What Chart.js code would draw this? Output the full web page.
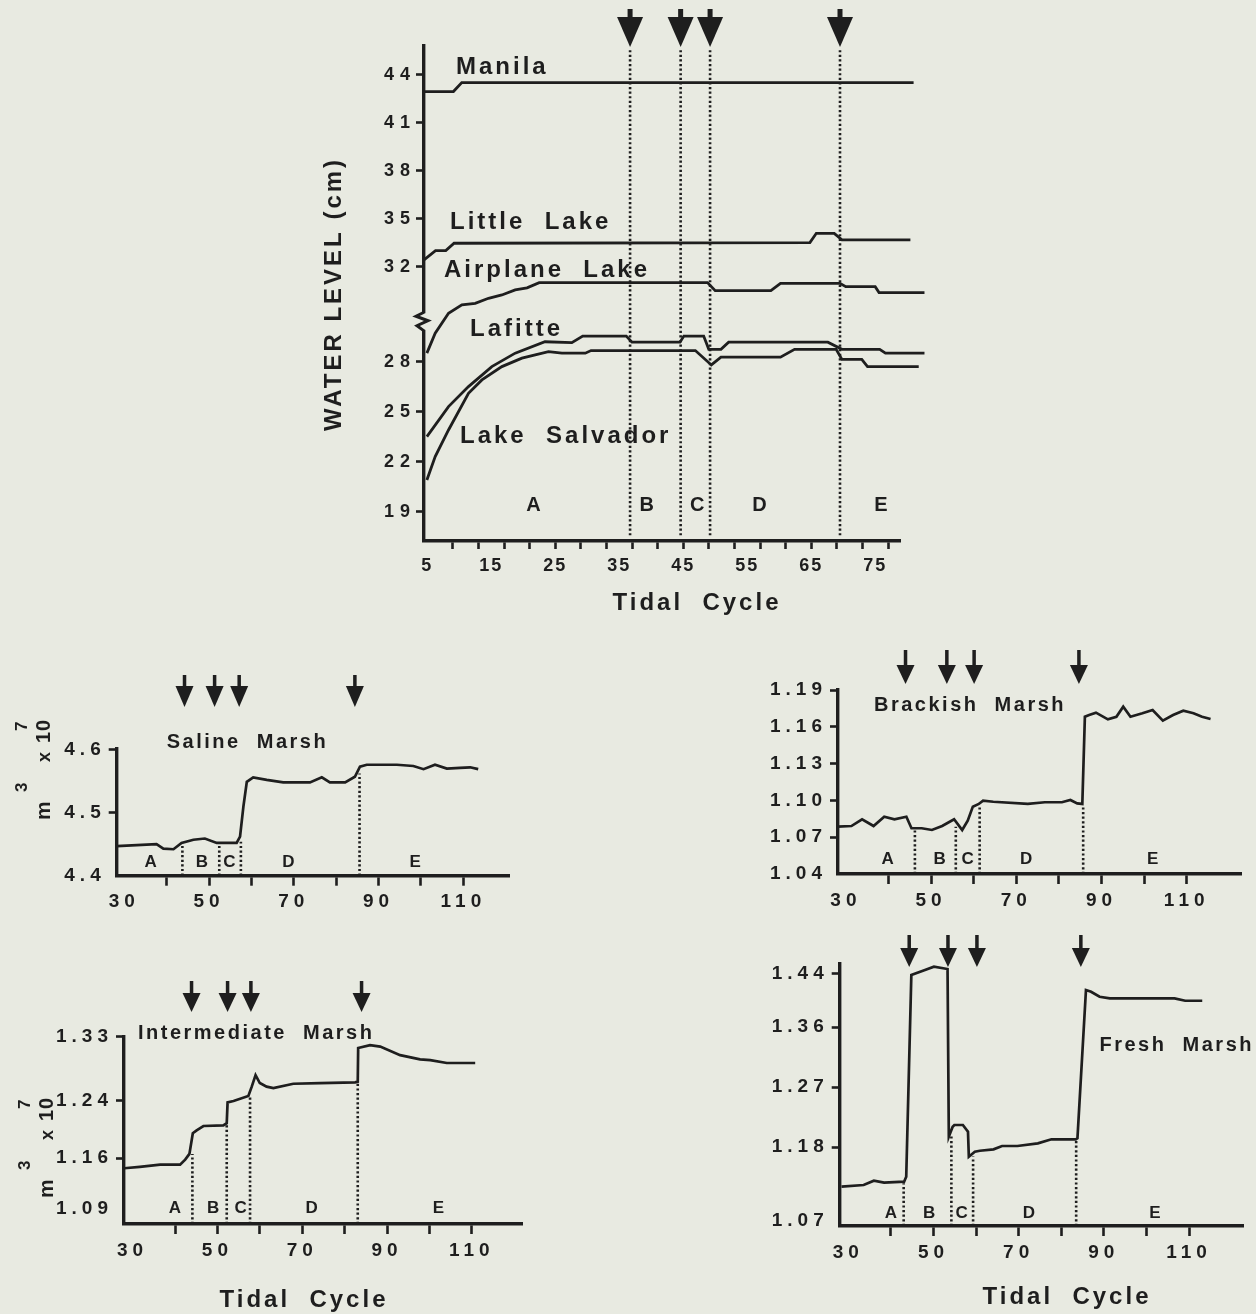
<!DOCTYPE html>
<html>
<head>
<meta charset="utf-8">
<title>Water level and marsh volume vs tidal cycle</title>
<script src="https://cdn.jsdelivr.net/npm/chart.js@4.4.1/dist/chart.umd.min.js"></script>
<style>
    body { margin: 0; background: #e8eae1; }
    #page { position: relative; width: 1256px; height: 1314px; }
    #page canvas { position: absolute; left: 0; top: 0; }
</style>
</head>
<body>
<div id="page">
    <canvas id="topChart" width="1256" height="1314"></canvas>
    <canvas id="salineChart" width="1256" height="1314"></canvas>
    <canvas id="interChart" width="1256" height="1314"></canvas>
    <canvas id="brackChart" width="1256" height="1314"></canvas>
    <canvas id="freshChart" width="1256" height="1314"></canvas>
</div>
<script>
// ================= DATA =================
const zoneNames = ["A", "B", "C", "D", "E"];
const lakeNames = ["Manila", "Little  Lake", "Airplane  Lake", "Lafitte", "Lake  Salvador"];

// top panel: water level (cm)
const topXLabels = [5, 15, 25, 35, 45, 55, 65, 75];
const topXMarks = [9, 13, 17, 21, 25, 29, 33, 37, 41, 45, 49, 53, 57, 61, 65, 69, 73, 77];
const topYTicks = [19, 22, 25, 28, 32, 35, 38, 41, 44];
const topTreatments = [36.7, 44.6, 49.2, 69.5];

const manilaX = [4.5, 9.1, 10.4, 81];
const manilaY = [42.96, 42.96, 43.52, 43.52];
const littleX = [4.5, 6.3, 7.9, 9.2, 64.8, 65.8, 68.6, 69.8, 80.5];
const littleY = [32.44, 33.02, 33.02, 33.48, 33.52, 34.1, 34.1, 33.69, 33.69];
const airplaneX = [4.95, 6.25, 8.33, 10.42, 12.5, 14.58, 16.67, 18.75, 20.6, 22.5, 48.8, 50.0, 58.7, 60.2, 69.5, 70.4, 75.0, 75.6, 82.7];
const airplaneY = [28.37, 29.21, 30.05, 30.4, 30.47, 30.68, 30.82, 31.03, 31.12, 31.34, 31.34, 31.0, 31.0, 31.31, 31.31, 31.17, 31.17, 30.92, 30.92];
const lafitteX = [4.95, 8.33, 11.45, 15.1, 18.75, 23.4, 27.6, 29.3, 36.1, 37.0, 44.5, 45.1, 48.2, 49.0, 50.9, 52.1, 67.6, 69.8, 75.7, 76.6, 82.7];
const lafitteY = [23.52, 25.32, 26.52, 27.72, 28.37, 28.85, 28.81, 29.09, 29.09, 28.83, 28.83, 29.09, 29.09, 28.53, 28.53, 28.83, 28.83, 28.53, 28.53, 28.37, 28.37];
const salvadorX = [4.95, 6.25, 8.33, 11.45, 13.55, 16.67, 19.8, 23.95, 26.05, 29.7, 30.6, 46.9, 49.4, 50.9, 60.2, 62.4, 68.9, 69.8, 72.9, 73.8, 81.8];
const salvadorY = [20.92, 22.32, 23.92, 26.12, 26.92, 27.72, 28.16, 28.43, 28.37, 28.37, 28.48, 28.48, 27.82, 28.2, 28.2, 28.53, 28.53, 28.11, 28.11, 27.72, 27.72];

// marsh panels: volume (m3 x 10^7)
const marshXLabels = [30, 50, 70, 90, 110];
const marshXMarks = [40, 50, 60, 70, 80, 90, 100, 110];

const salineYTicks = [4.4, 4.5, 4.6];
const salineX = [28.2, 37.6, 39.2, 41.6, 43.5, 46.3, 49.0, 51.8, 56.5, 57.3, 58.1, 58.9, 60.4, 63.6, 67.5, 73.8, 76.6, 78.5, 82.1, 84.4, 85.6, 87.2, 94.3, 98.2, 100.6, 103.3, 106.1, 109.2, 111.6, 113.5];
const salineY = [4.447, 4.45, 4.443, 4.442, 4.452, 4.457, 4.459, 4.452, 4.452, 4.462, 4.51, 4.549, 4.556, 4.552, 4.548, 4.548, 4.556, 4.548, 4.548, 4.557, 4.573, 4.576, 4.576, 4.574, 4.569, 4.576, 4.57, 4.571, 4.572, 4.569];
const salineArrows = [44.2, 51.3, 57.1, 84.4];
const salineDividers = [43.7, 52.4, 57.5, 85.5];
const salineDividerTops = [4.451, 4.451, 4.454, 4.562];

const interYTicks = [1.09, 1.16, 1.24, 1.33];
const interX = [28.0, 31.7, 36.5, 41.2, 42.4, 43.4, 44.2, 45.1, 46.7, 51.4, 52.2, 52.4, 53.8, 57.3, 58.1, 59.0, 60.0, 61.6, 63.2, 67.9, 74.2, 82.5, 83.1, 83.2, 86.0, 88.4, 93.1, 97.8, 100.2, 104.1, 110.8];
const interY = [1.146, 1.148, 1.151, 1.151, 1.158, 1.166, 1.195, 1.199, 1.205, 1.206, 1.209, 1.238, 1.240, 1.247, 1.260, 1.276, 1.265, 1.260, 1.258, 1.264, 1.265, 1.266, 1.267, 1.314, 1.318, 1.316, 1.304, 1.298, 1.297, 1.293, 1.293];
const interArrows = [43.9, 52.4, 57.9, 84.0];
const interDividers = [44.1, 52.2, 57.7, 83.1];
const interDividerTops = [1.166, 1.209, 1.247, 1.267];

const brackYTicks = [1.04, 1.07, 1.10, 1.13, 1.16, 1.19];
const brackX = [28.1, 31.3, 33.8, 36.5, 39.0, 41.4, 44.2, 45.4, 47.8, 50.2, 52.6, 55.4, 57.3, 58.6, 59.8, 61.2, 62.2, 64.6, 72.7, 76.7, 80.7, 82.7, 84.3, 85.5, 86.1, 87.1, 88.7, 91.5, 93.5, 95.1, 96.8, 99.6, 102.0, 104.4, 106.8, 109.2, 111.6, 113.6, 115.6];
const brackY = [1.0786, 1.0791, 1.0846, 1.0791, 1.0867, 1.0846, 1.0867, 1.0773, 1.0773, 1.0759, 1.0791, 1.0846, 1.0759, 1.0835, 1.0949, 1.0971, 1.0998, 1.0989, 1.0971, 1.0985, 1.0985, 1.1003, 1.0976, 1.0971, 1.1682, 1.1696, 1.1715, 1.1661, 1.1682, 1.1764, 1.1682, 1.171, 1.1737, 1.165, 1.1696, 1.1731, 1.171, 1.1682, 1.1664];
const brackArrows = [44.0, 53.7, 60.1, 84.7];
const brackDividers = [46.2, 55.8, 61.4, 85.7];
const brackDividerTops = [1.0773, 1.0786, 1.0949, 1.0963];

const freshYTicks = [1.07, 1.18, 1.27, 1.36, 1.44];
const freshX = [28.4, 33.6, 36.0, 38.4, 43.1, 43.6, 44.8, 48.0, 50.1, 53.3, 53.6, 54.5, 54.9, 56.9, 58.1, 58.3, 59.7, 60.9, 64.1, 66.1, 69.7, 74.5, 77.7, 83.4, 83.8, 85.8, 87.0, 89.0, 91.4, 106.6, 109.1, 113.1];
const freshY = [1.1207, 1.1232, 1.1297, 1.1267, 1.1282, 1.1357, 1.4384, 1.4459, 1.4509, 1.4474, 1.1957, 1.2107, 1.2133, 1.2133, 1.2032, 1.1657, 1.1732, 1.1747, 1.1768, 1.1818, 1.1818, 1.1858, 1.1918, 1.1918, 1.1933, 1.4159, 1.4133, 1.4058, 1.4034, 1.4034, 1.3998, 1.3998];
const freshArrows = [44.3, 53.4, 60.2, 84.6];
const freshDividers = [43.0, 54.2, 59.3, 83.5];
const freshDividerTops = [1.126, 1.198, 1.166, 1.191];


// ================= STYLE =================
const INK = "#1e1e1e";
const PAPER = "#e8eae1";
const FONT = '"Liberation Sans", Arial, Helvetica, sans-serif';
const NONE = "rgba(0,0,0,0)";

// y axis of the top panel is broken between 28 and 32
function toAxis(v) {
    if (v <= 28) return v;
    if (v < 32) return 28 + (v - 28) * 1.4247;
    return 33.699 + (v - 32) * 0.9598;
}

class BrokenScale extends Chart.LinearScale {
    static id = "broken";
    getPixelForValue(value) {
        return super.getPixelForValue(toAxis(value));
    }
    draw(chartArea) {
        // wider letter spacing on these labels
        this.ctx.save();
        this.ctx.letterSpacing = "6px";
        super.draw(chartArea);
        this.ctx.restore();
    }
}
Chart.register(BrokenScale);

function pts(xs, ys) {
    return xs.map((x, i) => ({ x: x, y: ys[i] }));
}

function drawText(ctx, t) {
    ctx.save();
    ctx.font = `bold ${t.size}px ${FONT}`;
    ctx.letterSpacing = (t.sp || 0) + "px";
    ctx.textAlign = t.align || "left";
    ctx.textBaseline = "middle";
    ctx.translate(t.x, t.y);
    if (t.rot) ctx.rotate(-Math.PI / 2);
    ctx.fillText(t.t, 0, 0);
    ctx.restore();
}

// "m3 x 10 7" written upwards, with superscripts
function drawUnit(ctx, x, y) {
    const parts = [["m", 21, 0, 0], ["3", 17, 28, -23], ["x", 18, 58, 0], ["10", 20, 77, 0], ["7", 17, 89, -23]];
    ctx.save();
    ctx.translate(x, y);
    ctx.rotate(-Math.PI / 2);
    ctx.textAlign = "left";
    ctx.textBaseline = "alphabetic";
    ctx.letterSpacing = "1px";
    parts.forEach(p => {
        ctx.font = `bold ${p[1]}px ${FONT}`;
        ctx.fillText(p[0], p[2], p[3]);
    });
    ctx.restore();
}

function decor(p) {
    return {
        id: "decor",
        beforeDraw(chart) {
            chart.ctx.letterSpacing = p.tickSpacing + "px";
        },
        beforeDatasetsDraw(chart) {
            if (!p.axisBreak) return;
            const ctx = chart.ctx;
            const ys = chart.scales.y;
            const x0 = chart.chartArea.left;
            const y1 = ys.getPixelForValue(p.axisBreak[1]);
            const y2 = ys.getPixelForValue(p.axisBreak[0]);
            const h = y2 - y1;
            ctx.save();
            ctx.fillStyle = PAPER;
            ctx.fillRect(x0 - 4, y1, 8, h);
            ctx.strokeStyle = INK;
            ctx.lineWidth = 3;
            ctx.beginPath();
            ctx.moveTo(x0, y1 - 1);
            ctx.lineTo(x0 - 8, y1 + 3);
            ctx.lineTo(x0 + 4, y1 + h * 0.45);
            ctx.lineTo(x0 - 7, y1 + h * 0.75);
            ctx.lineTo(x0, y2 + 1);
            ctx.stroke();
            ctx.restore();
        },
        afterDraw(chart) {
            const ctx = chart.ctx;
            const xs = chart.scales.x;
            const a = p.arrowShape;
            ctx.save();
            ctx.letterSpacing = "0px";
            ctx.fillStyle = INK;

            // treatment arrows
            p.arrows.forEach(v => {
                const px = xs.getPixelForValue(v);
                ctx.fillRect(px - a.stem / 2, a.stemTop, a.stem, a.triTop - a.stemTop + 1);
                ctx.beginPath();
                ctx.moveTo(px - a.half, a.triTop);
                ctx.lineTo(px + a.half, a.triTop);
                ctx.lineTo(px, a.tip);
                ctx.closePath();
                ctx.fill();
            });

            // period letters
            ctx.font = `bold ${p.zoneSize}px ${FONT}`;
            ctx.textAlign = "center";
            ctx.textBaseline = "middle";
            zoneNames.forEach((z, i) => {
                ctx.fillText(z, xs.getPixelForValue(p.zoneX[i]), p.zoneY);
            });

            p.texts.forEach(t => drawText(ctx, t));
            if (p.unit) drawUnit(ctx, p.unit[0], p.unit[1]);
            ctx.restore();
        }
    };
}

function panel(id, p) {
    const yW = 90, xH = 60;
    const area = p.area;

    const datasets = p.series.map(s => ({
        data: pts(s[0], s[1]),
        borderColor: INK,
        borderWidth: p.lineWidth,
        pointRadius: 0,
        tension: 0,
        clip: false
    }));

    p.dividers.forEach((d, i) => {
        datasets.push({
            data: [{ x: d, y: p.divBottom }, { x: d, y: p.divTops[i] }],
            borderColor: INK,
            borderWidth: 2.6,
            borderDash: [2.2, 2.4],
            pointRadius: 0,
            clip: false
        });
    });

    const tickFont = { family: FONT, size: p.tickSize, weight: "bold" };

    return new Chart(document.getElementById(id), {
        type: "line",
        data: { datasets: datasets },
        options: {
            responsive: false,
            animation: false,
            devicePixelRatio: 1,
            layout: {
                padding: {
                    left: area[0] - yW,
                    top: area[1],
                    right: 1256 - area[2],
                    bottom: 1314 - area[3] - xH
                }
            },
            plugins: {
                legend: { display: false },
                tooltip: { enabled: false }
            },
            scales: {
                x: {
                    type: "linear",
                    min: p.xMin,
                    max: p.xMax,
                    afterFit: s => { s.height = xH; },
                    afterBuildTicks: s => { s.ticks = p.xTicks.map(v => ({ value: v })); },
                    grid: {
                        display: true,
                        drawOnChartArea: false,
                        drawTicks: true,
                        tickLength: p.xTickLen,
                        tickWidth: 2.6,
                        tickColor: c => (c.tick && p.xMarks.includes(c.tick.value)) ? INK : NONE
                    },
                    border: { display: true, color: INK, width: 3.4 },
                    ticks: {
                        autoSkip: false,
                        maxRotation: 0,
                        color: INK,
                        font: tickFont,
                        padding: p.xPad,
                        callback: v => p.xLabels.includes(v) ? String(v) : ""
                    }
                },
                y: {
                    type: p.yType,
                    min: p.yMin,
                    max: p.yMax,
                    afterFit: s => { s.width = yW; },
                    afterBuildTicks: s => { s.ticks = p.yTicks.map(v => ({ value: v })); },
                    grid: {
                        display: true,
                        drawOnChartArea: false,
                        drawTicks: true,
                        tickLength: 8,
                        tickWidth: 2.6,
                        tickColor: c => (c.tick && p.yMarks.includes(c.tick.value)) ? INK : NONE
                    },
                    border: { display: true, color: INK, width: 3.4 },
                    ticks: {
                        color: INK,
                        font: tickFont,
                        padding: p.yPad,
                        callback: v => p.yDigits ? v.toFixed(p.yDigits) : String(v)
                    }
                }
            }
        },
        plugins: [decor(p)]
    });
}

const smallArrow = (stemTop, triTop, tip) => ({ stem: 3.5, stemTop: stemTop, triTop: triTop, tip: tip, half: 9 });
const marshXTicks = [30, 40, 50, 60, 70, 80, 90, 100, 110];
const tidal = (x, y) => ({ t: "Tidal  Cycle", x: x, y: y, size: 24, sp: 3, align: "center" });


// ================= TOP PANEL =================
panel("topChart", {
    area: [424, 46, 900.8, 541],
    xMin: 4.5, xMax: 79,
    yType: "broken", yMin: 17.26, yMax: 46.95,
    xTicks: [...new Set([...topXLabels, ...topXMarks])].sort((a, b) => a - b),
    xLabels: topXLabels, xMarks: topXMarks, xTickLen: 8, xPad: 6,
    yTicks: topYTicks, yMarks: topYTicks, yPad: 0, yDigits: 0,
    tickSize: 18, tickSpacing: 2,
    lineWidth: 2.8,
    series: [[manilaX, manilaY], [littleX, littleY], [airplaneX, airplaneY], [lafitteX, lafitteY], [salvadorX, salvadorY]],
    dividers: topTreatments, divTops: topTreatments.map(() => 45.6), divBottom: 17.6,
    arrows: topTreatments,
    arrowShape: { stem: 5, stemTop: 9, triTop: 17, tip: 47, half: 13 },
    axisBreak: [29.35, 30.05],
    zoneX: [21.6, 39.3, 47.2, 56.9, 75.9], zoneY: 505, zoneSize: 20,
    texts: [
        { t: lakeNames[0], x: 456, y: 67, size: 24, sp: 3 },
        { t: lakeNames[1], x: 450, y: 222, size: 24, sp: 3 },
        { t: lakeNames[2], x: 444, y: 270, size: 24, sp: 3 },
        { t: lakeNames[3], x: 470, y: 329, size: 24, sp: 3 },
        { t: lakeNames[4], x: 460, y: 436, size: 24, sp: 3 },
        tidal(697, 603),
        { t: "WATER LEVEL (cm)", x: 334, y: 294, size: 24, sp: 3, align: "center", rot: true }
    ]
});

// ================= SALINE MARSH =================
panel("salineChart", {
    area: [116.7, 749, 510, 875.7],
    xMin: 28.2, xMax: 121,
    yType: "linear", yMin: 4.4, yMax: 4.601,
    xTicks: marshXTicks, xLabels: marshXLabels, xMarks: marshXMarks, xTickLen: 10, xPad: 5,
    yTicks: salineYTicks, yMarks: salineYTicks.slice(1), yPad: 3, yDigits: 1,
    tickSize: 19, tickSpacing: 5,
    lineWidth: 2.7,
    series: [[salineX, salineY]],
    dividers: salineDividers, divTops: salineDividerTops, divBottom: 4.4,
    arrows: salineArrows,
    arrowShape: smallArrow(675, 686, 707),
    zoneX: [36.2, 48.3, 54.8, 68.7, 98.6], zoneY: 862, zoneSize: 17,
    texts: [{ t: "Saline  Marsh", x: 166.7, y: 742, size: 20, sp: 2.5 }],
    unit: [50, 820]
});

// ================= INTERMEDIATE MARSH =================
panel("interChart", {
    area: [124, 1036.6, 522, 1224],
    xMin: 27.97, xMax: 121.84,
    yType: "linear", yMin: 1.0681, yMax: 1.3299,
    xTicks: marshXTicks, xLabels: marshXLabels, xMarks: marshXMarks, xTickLen: 10, xPad: 5,
    yTicks: interYTicks, yMarks: interYTicks.slice(1), yPad: 3, yDigits: 2,
    tickSize: 19, tickSpacing: 5,
    lineWidth: 2.7,
    series: [[interX, interY]],
    dividers: interDividers, divTops: interDividerTops, divBottom: 1.0681,
    arrows: interArrows,
    arrowShape: smallArrow(981, 993, 1012),
    zoneX: [40, 49, 55.5, 72.2, 102.1], zoneY: 1208, zoneSize: 17,
    texts: [{ t: "Intermediate  Marsh", x: 138, y: 1033, size: 20, sp: 2.5 }, tidal(304, 1300)],
    unit: [53, 1198]
});

// ================= BRACKISH MARSH =================
panel("brackChart", {
    area: [838, 690, 1241.4, 874],
    xMin: 28.15, xMax: 122.84,
    yType: "linear", yMin: 1.04, yMax: 1.19,
    xTicks: marshXTicks, xLabels: marshXLabels, xMarks: marshXMarks, xTickLen: 10, xPad: 5,
    yTicks: brackYTicks, yMarks: brackYTicks.slice(1), yPad: 3, yDigits: 2,
    tickSize: 19, tickSpacing: 5,
    lineWidth: 2.7,
    series: [[brackX, brackY]],
    dividers: brackDividers, divTops: brackDividerTops, divBottom: 1.04,
    arrows: brackArrows,
    arrowShape: smallArrow(650, 665, 684),
    zoneX: [39.8, 52, 58.6, 72.3, 102], zoneY: 859, zoneSize: 17,
    texts: [{ t: "Brackish  Marsh", x: 874, y: 705, size: 20, sp: 2.5 }]
});

// ================= FRESH MARSH =================
panel("freshChart", {
    area: [839.7, 963.3, 1243, 1226],
    xMin: 27.98, xMax: 122.67,
    yType: "linear", yMin: 1.0617, yMax: 1.456,
    xTicks: marshXTicks, xLabels: marshXLabels, xMarks: marshXMarks, xTickLen: 10, xPad: 5,
    yTicks: freshYTicks, yMarks: freshYTicks.slice(1), yPad: 3, yDigits: 2,
    tickSize: 19, tickSpacing: 5,
    lineWidth: 2.7,
    series: [[freshX, freshY]],
    dividers: freshDividers, divTops: freshDividerTops, divBottom: 1.0617,
    arrows: freshArrows,
    arrowShape: smallArrow(935, 948, 967),
    zoneX: [40, 49, 56.6, 72.4, 102], zoneY: 1213, zoneSize: 17,
    texts: [{ t: "Fresh  Marsh", x: 1099.5, y: 1045, size: 20, sp: 2.5 }, tidal(1067, 1297)]
});
</script>
</body>
</html>
